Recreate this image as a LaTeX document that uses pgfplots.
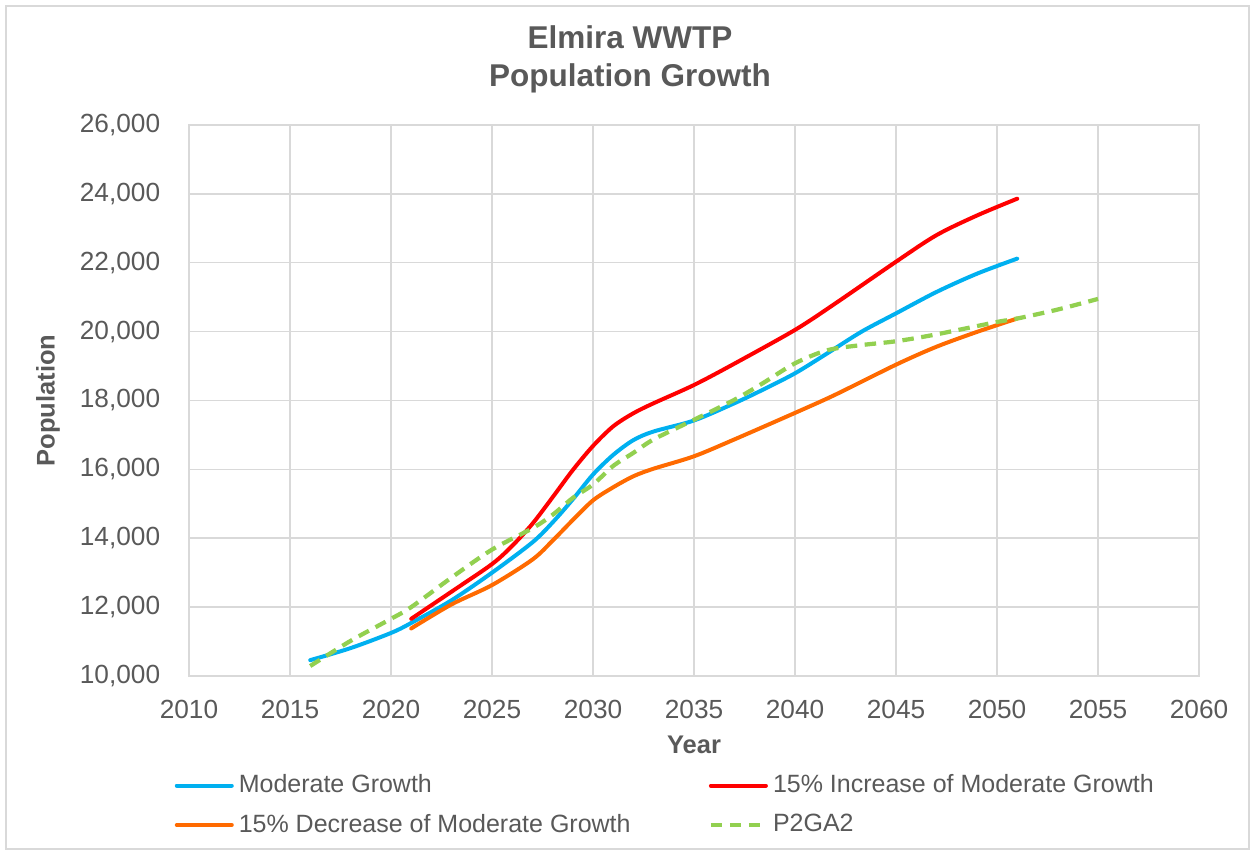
\documentclass[border=0pt]{standalone}
\usepackage{fontspec}
\setmainfont{Liberation Sans}
\usepackage{pgfplots}
\pgfplotsset{compat=1.18}

\definecolor{txtgray}{HTML}{595959}
\definecolor{gridgray}{HTML}{D9D9D9}
\definecolor{mgblue}{HTML}{00B0F0}
\definecolor{incred}{HTML}{FF0000}
\definecolor{decorange}{HTML}{FF6A00}
\definecolor{p2green}{HTML}{92D050}

\pgfplotstableread{
year pop
2016 10460
2018 10810
2020 11250
2021 11540
2023 12200
2025 13000
2027 13880
2028 14460
2029 15130
2030 15850
2031 16420
2032 16850
2033 17100
2035 17420
2037 17920
2038.4 18310
2040 18790
2041.6 19370
2043.3 20000
2045 20530
2047 21150
2049 21680
2051 22120
}\moderate

\pgfplotstableread{
year pop
2021 11660
2023 12450
2025 13250
2026 13780
2027 14420
2028 15190
2029 15980
2030 16680
2031 17250
2032 17630
2033 17920
2035 18450
2037 19070
2040 20050
2042 20820
2045 22030
2047 22800
2049 23370
2051 23860
}\increase

\pgfplotstableread{
year pop
2021 11380
2023 12080
2025 12640
2027 13380
2028 13930
2029 14530
2030 15100
2031 15480
2032 15800
2033 16020
2035 16380
2037 16870
2040 17640
2042 18170
2045 19040
2047 19560
2049 19990
2051 20380
}\decrease

\pgfplotstableread{
year pop
2016 10290
2018 11020
2020 11660
2021 12000
2023 12860
2025 13670
2027 14290
2028 14680
2029 15170
2030 15560
2031 16100
2032 16480
2033 16870
2035 17440
2037 18020
2038.4 18500
2040 19080
2041.6 19460
2043.3 19610
2045 19720
2047 19920
2050 20280
2051 20380
2053 20640
2055 20950
}\ptwoga

\begin{document}
\begin{tikzpicture}[x=0.4pt,y=0.4pt]
% frame in reference pixels (y up)
\path[use as bounding box] (0,0) rectangle (1255,855);
\draw[gridgray, line width=0.6pt] (6,6) rectangle (1249,849);
\node[font=\fontsize{12.6}{15.2}\selectfont\bfseries, text=txtgray, align=center]
  at (630,796) {Elmira WWTP\\Population Growth};

\begin{axis}[
  at={(75.6pt,71.6pt)}, anchor=south west,
  scale only axis,
  width=404pt, height=220.4pt,
  xmin=2010, xmax=2060,
  ymin=10000, ymax=26000,
  xtick={2010,2015,...,2060},
  ytick={10000,12000,...,26000},
  grid=major,
  grid style={gridgray, line width=0.6pt},
  axis line style={gridgray, line width=0.6pt},
  major tick length=0pt,
  tick label style={font=\fontsize{10.5}{12}\selectfont, text=txtgray},
  /pgf/number format/assume math mode=true,
  xticklabel style={/pgf/number format/set thousands separator={}, yshift=-6pt},
  yticklabel style={/pgf/number format/1000 sep={,}, xshift=-8pt},
  scaled y ticks=false,
  xlabel={Year},
  ylabel={Population},
  label style={font=\fontsize{10.2}{12}\selectfont\bfseries, text=txtgray},
  xlabel style={at={(axis description cs:0.5,-0.125)}, anchor=center},
  ylabel style={at={(axis description cs:-0.1396,0.5)}, anchor=center, rotate=0},
  legend columns=2,
  legend cell align=left,
  legend style={at={(axis description cs:-0.022,-0.160)}, anchor=north west,
    draw=none, fill=none, font=\fontsize{10}{12}\selectfont, text=txtgray,
    row sep=3pt},
  legend image code/.code={\draw[#1] (0pt,0pt) -- (22pt,0pt);},
  every axis plot/.append style={line width=1.6pt, line cap=round},
]
\addplot[mgblue, smooth, tension=0.5] table[x=year, y=pop] {\moderate};
\addlegendentry{\makebox[186pt][l]{Moderate Growth}}
\addplot[incred, smooth, tension=0.5] table[x=year, y=pop] {\increase};
\addlegendentry{15\% Increase of Moderate Growth}
\addplot[decorange, smooth, tension=0.5] table[x=year, y=pop] {\decrease};
\addlegendentry{\makebox[186pt][l]{15\% Decrease of Moderate Growth}}
\addplot[p2green, smooth, tension=0.5, line width=1.7pt, dash pattern=on 4.6pt off 3pt, line cap=butt] table[x=year, y=pop] {\ptwoga};
\addlegendentry{P2GA2}
\end{axis}
\end{tikzpicture}
\end{document}
